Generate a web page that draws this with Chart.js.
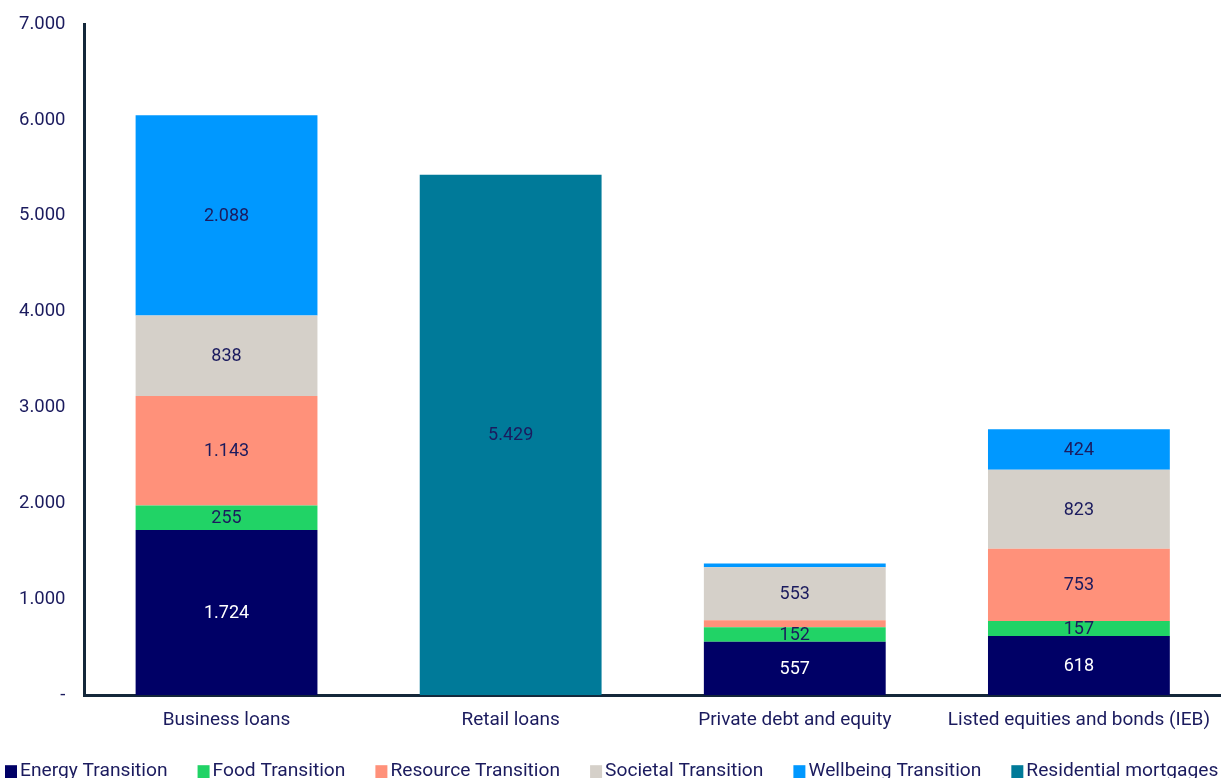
<!DOCTYPE html>
<html>
<head>
<meta charset="utf-8">
<script src="https://cdn.jsdelivr.net/npm/chart.js@4/dist/chart.umd.min.js"></script>
<style>
html,body{margin:0;padding:0;background:#fff;overflow:hidden;}
#wrap{width:1224px;height:784px;position:absolute;left:0;top:-6px;}
</style>
</head>
<body>
<div id="wrap"><canvas id="c"></canvas></div>
<script>
const categories = ['Business loans', 'Retail loans', 'Private debt and equity', 'Listed equities and bonds (IEB)'];
const energyTransition = [1724, null, 557, 618];
const foodTransition = [255, null, 152, 157];
const resourceTransition = [1143, null, 73, 753];
const societalTransition = [838, null, 553, 823];
const wellbeingTransition = [2088, null, 40, 424];
const residentialMortgages = [null, 5429, null, null];
const yTicks = [0, 1000, 2000, 3000, 4000, 5000, 6000, 7000];

const fmt = v => v === 0 ? '-' : Math.round(v).toString().replace(/\B(?=(\d{3})+(?!\d))/g, '.');
const FONT = 'Roboto, "Liberation Sans", sans-serif';
const NAVY = '#1b1b5e';

const labelPlugin = {
  id: 'barLabels',
  afterDatasetsDraw(chart) {
    const ctx = chart.ctx;
    ctx.save();
    ctx.font = '18px ' + FONT;
    ctx.textAlign = 'center';
    ctx.textBaseline = 'middle';
    chart.data.datasets.forEach((ds, i) => {
      const meta = chart.getDatasetMeta(i);
      if (meta.hidden) return;
      meta.data.forEach((bar, j) => {
        const v = ds.data[j];
        if (v == null || v < 100) return;
        const p = bar.getProps(['x', 'y', 'base'], true);
        ctx.fillStyle = ds.labelColor;
        ctx.fillText(fmt(v), p.x, (p.y + p.base) / 2 + 1);
      });
    });
    ctx.restore();
  }
};

const legendPlugin = {
  id: 'bottomLegend',
  afterDraw(chart) {
    const ctx = chart.ctx;
    ctx.save();
    ctx.font = '19.2px ' + FONT;
    ctx.textBaseline = 'middle';
    ctx.textAlign = 'left';
    let x = 5;
    const y = chart.chartArea.bottom + 76;
    chart.data.datasets.forEach(ds => {
      ctx.fillStyle = ds.backgroundColor;
      ctx.fillRect(x, y - 6, 12, 13);
      ctx.fillStyle = NAVY;
      ctx.fillText(ds.label, x + 15, y);
      x += 15 + ctx.measureText(ds.label).width + 30;
    });
    ctx.restore();
  }
};

const mk = (label, data, color, labelColor) => ({
  label, data, backgroundColor: color, labelColor,
  categoryPercentage: 1, barPercentage: 0.64, borderWidth: 0
});

new Chart(document.getElementById('c'), {
  type: 'bar',
  data: {
    labels: categories,
    datasets: [
      mk('Energy Transition', energyTransition, '#000066', '#ffffff'),
      mk('Food Transition', foodTransition, '#21d366', NAVY),
      mk('Resource Transition', resourceTransition, '#ff917a', NAVY),
      mk('Societal Transition', societalTransition, '#d5d0c9', NAVY),
      mk('Wellbeing Transition', wellbeingTransition, '#0098ff', NAVY),
      mk('Residential mortgages', residentialMortgages, '#007a99', NAVY)
    ]
  },
  options: {
    responsive: true,
    maintainAspectRatio: false,
    animation: false,
    layout: { padding: { top: 9, right: 0, left: 0, bottom: 32 } },
    plugins: {
      tooltip: { enabled: false },
      legend: { display: false }
    },
    scales: {
      x: {
        stacked: true,
        grid: { display: false, drawTicks: false },
        border: { display: true, color: '#14273a', width: 3 },
        ticks: { color: NAVY, font: { family: FONT, size: 19 }, padding: 14 }
      },
      y: {
        stacked: true,
        min: 0, max: 7000,
        afterBuildTicks: ax => { ax.ticks = yTicks.map(v => ({ value: v })); },
        grid: { display: false, drawTicks: false },
        border: { display: true, color: '#14273a', width: 3 },
        ticks: {
          color: NAVY, font: { family: FONT, size: 18.5 }, padding: 19,
          callback: v => fmt(v)
        }
      }
    }
  },
  plugins: [labelPlugin, legendPlugin]
});
</script>
</body>
</html>
